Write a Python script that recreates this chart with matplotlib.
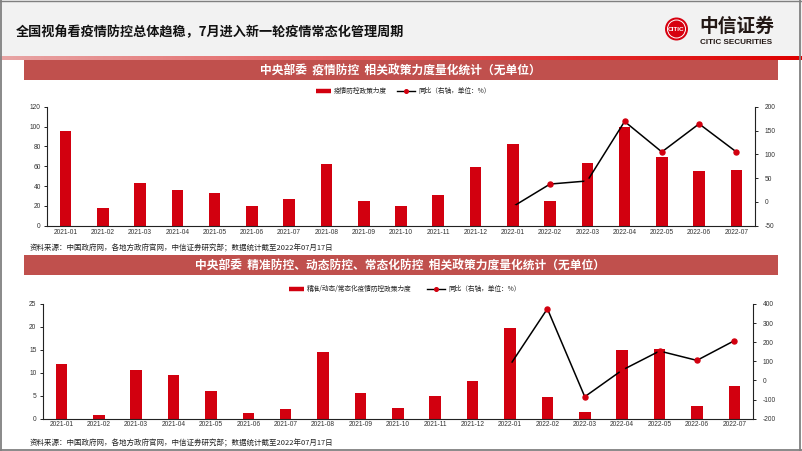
import numpy as np
import matplotlib
matplotlib.use("Agg")
import matplotlib.pyplot as plt
from matplotlib.patches import Rectangle, Circle
from matplotlib.lines import Line2D

plt.rcParams['font.family'] = ['Liberation Sans', 'Noto Sans CJK SC', 'DejaVu Sans']
plt.rcParams['axes.unicode_minus'] = False
CJK = ['Noto Sans CJK SC', 'Liberation Sans', 'DejaVu Sans']

# ---------------- data ----------------
months = ['2021-01', '2021-02', '2021-03', '2021-04', '2021-05', '2021-06', '2021-07',
          '2021-08', '2021-09', '2021-10', '2021-11', '2021-12', '2022-01', '2022-02',
          '2022-03', '2022-04', '2022-05', '2022-06', '2022-07']
policy1 = [96, 18, 43, 36, 33, 20, 27, 62, 24.5, 20, 31, 59, 82, 25, 63, 100, 69, 55, 56]
yoy1 = [np.nan] * 12 + [-10, 37.5, 44, 169, 105, 164, 105]
policy2 = [12, 0.9, 10.6, 9.6, 6.0, 1.3, 2.2, 14.6, 5.7, 2.25, 4.9, 8.3, 19.7, 4.65, 1.4, 15, 15.1, 2.7, 7.1]
yoy2 = [np.nan] * 12 + [80, 375, -85, 54, 154, 105, 208]

main_title = '全国视角看疫情防控总体趋稳，7月进入新一轮疫情常态化管理周期'
panel1_title = '中央部委  疫情防控  相关政策力度量化统计（无单位）'
panel2_title = '中央部委  精准防控、动态防控、常态化防控  相关政策力度量化统计（无单位）'
legend1_bar = '疫情防控政策力度'
legend2_bar = '精准/动态/常态化疫情防控政策力度'
legend_line = '同比（右轴，单位：%）'
source = '资料来源：中国政府网，各地方政府官网，中信证券研究部；数据统计截至2022年07月17日'

W, H = 802, 451
BAR = '#d2000f'
TBAR = '#c0504d'

fig = plt.figure(figsize=(W / 100, H / 100), dpi=100)

# background pixel-coordinate axes
bg = fig.add_axes([0, 0, 1, 1], zorder=-5)
bg.axis('off')

# header band
bg.add_patch(Rectangle((0, 0), W, 57, facecolor='#f2f2f2', edgecolor='none'))
# gradient red line
grad = np.linspace(0, 1, 256)
c0 = np.array([232, 165, 165]) / 255
c1 = np.array([222, 0, 0]) / 255
img = (c0[None, :] * (1 - grad[:, None]) + c1[None, :] * grad[:, None])[None, :, :]
bg.imshow(img, extent=(0, W, 60.5, 57), aspect='auto', zorder=1)
bg.set_xlim(0, W)
bg.set_ylim(H, 0)

# border
bg.add_line(Line2D([1, 1], [0, H], color='#808080', lw=1.3))
bg.add_line(Line2D([799.5, 799.5], [0, H], color='#808080', lw=1.3))
bg.add_line(Line2D([0, W], [450, 450], color='#808080', lw=1.3))
bg.add_line(Line2D([0, W], [0.5, 0.5], color='#808080', lw=1.0))

# main title
bg.text(16, 32, main_title, family=CJK, fontsize=9.45, fontweight='bold',
        color='#111111', va='center', ha='left')

# logo
bg.add_patch(Circle((676.5, 29), 11.5, facecolor='#d7000f', edgecolor='none', zorder=3))
bg.add_patch(Circle((676.5, 29), 9.0, facecolor='none', edgecolor='white', lw=0.7, zorder=4))
bg.text(676.5, 29.3, 'CITIC', fontsize=4.6, fontweight='bold', color='white',
        ha='center', va='center', zorder=5)
bg.text(699, 26.5, '中信证券', family=CJK, fontsize=13.5, fontweight='bold',
        color='#231815', ha='left', va='center')
bg.text(700, 42, 'CITIC SECURITIES', fontsize=5.9, fontweight='bold',
        color='#231815', ha='left', va='center')

# panel title bars
for (t, b, txt) in [(60, 80, panel1_title), (255, 275, panel2_title)]:
    bg.add_patch(Rectangle((24, t), 754, b - t, facecolor=TBAR, edgecolor='none'))
    bg.text(400, (t + b) / 2 + 0.5, txt, family=CJK, fontsize=8.45, fontweight='bold',
            color='white', ha='center', va='center')

# sources
for y in (248, 443):
    bg.text(30, y, source, family=CJK, fontsize=5.4, color='#222222', ha='left', va='center')


def legend(xbar, ybar, bar_label, xline):
    bg.add_line(Line2D([xbar, xbar + 15], [ybar, ybar], color=BAR, lw=3.2, solid_capstyle='butt'))
    bg.text(xbar + 18, ybar, bar_label, family=CJK, fontsize=4.8, color='#222222',
            ha='left', va='center')
    bg.add_line(Line2D([xline, xline + 18], [ybar, ybar], color='black', lw=1.0))
    bg.add_line(Line2D([xline + 9], [ybar], color=BAR, marker='o', markersize=2.6, lw=0))
    bg.text(xline + 21, ybar, legend_line, family=CJK, fontsize=4.8, color='#222222',
            ha='left', va='center')


legend(316, 91, legend1_bar, 397)
legend(289, 288.7, legend2_bar, 427)


def axpos(l, t, r, b):
    return [l / W, 1 - b / H, (r - l) / W, (b - t) / H]


def panel(pos, bars, line, ylim_l, yticks_l, ylim_r, yticks_r, xpad):
    ax = fig.add_axes(pos)
    ax.set_facecolor('none')
    x = np.arange(len(months))
    ax.bar(x, bars, width=0.31, color=BAR, zorder=2)
    ax.set_xlim(-0.5, len(months) - 0.5)
    ax.set_ylim(*ylim_l)
    ax.set_yticks(yticks_l)
    ax.set_xticks(x)
    ax.set_xticklabels(months)
    ax.tick_params(axis='x', length=0, pad=xpad, labelsize=4.8, labelcolor='#333333')
    ax.tick_params(axis='y', length=2, width=0.6, pad=2.5, labelsize=4.8, labelcolor='#333333')
    for s in ['top', 'right']:
        ax.spines[s].set_visible(False)
    for s in ['left', 'bottom']:
        ax.spines[s].set_linewidth(0.8)
        ax.spines[s].set_color('#222222')
    ax2 = ax.twinx()
    ax2.plot(x, line, color='black', lw=1.1, marker='o', markersize=3.6,
             markerfacecolor=BAR, markeredgecolor=BAR, zorder=3)
    ax2.set_ylim(*ylim_r)
    ax2.set_yticks(yticks_r)
    ax2.tick_params(axis='y', length=2, width=0.6, pad=5, labelsize=4.8, labelcolor='#333333')
    for s in ['top', 'left', 'bottom']:
        ax2.spines[s].set_visible(False)
    ax2.spines['right'].set_linewidth(0.8)
    ax2.spines['right'].set_color('#222222')
    return ax, ax2


panel(axpos(47, 106.7, 755, 225.7), policy1, yoy1, (0, 120), np.arange(0, 121, 20),
      (-50, 200), np.arange(-50, 201, 50), 2.2)
panel(axpos(42.7, 304, 753, 418.7), policy2, yoy2, (0, 25), np.arange(0, 26, 5),
      (-200, 400), np.arange(-200, 401, 100), 1.8)

fig.savefig('out.png', dpi=100)
